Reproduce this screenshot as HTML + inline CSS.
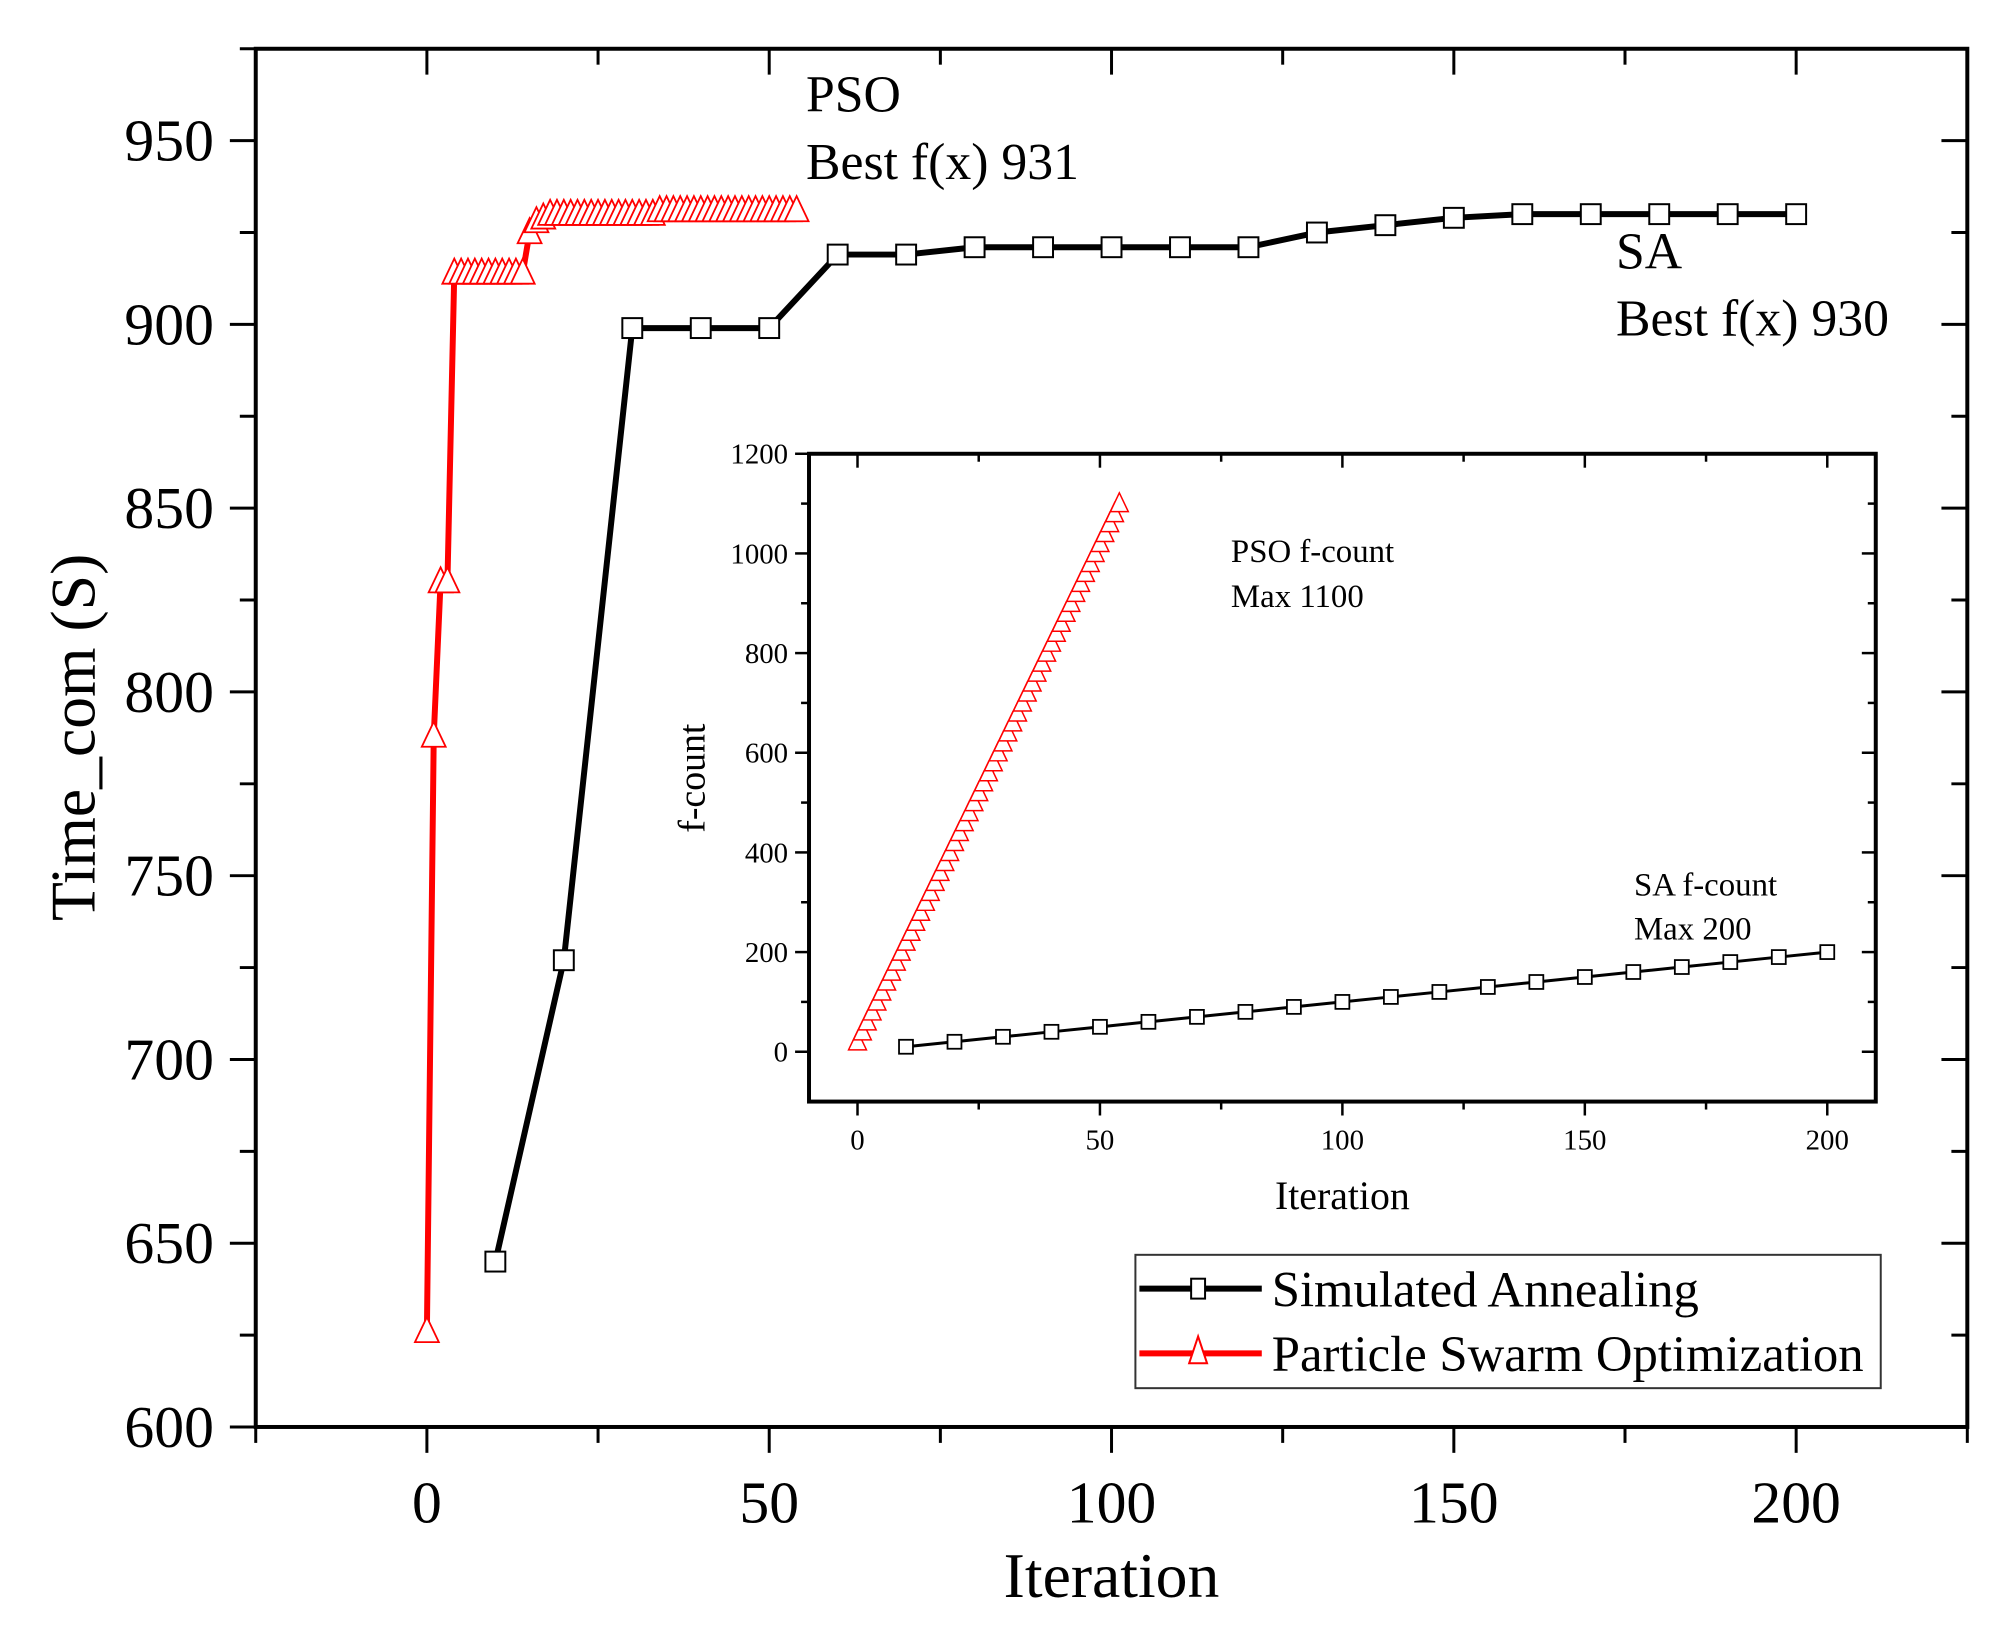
<!DOCTYPE html>
<html><head><meta charset="utf-8"><style>
html,body{margin:0;padding:0;background:#fff}
svg{display:block;font-family:"Liberation Serif",serif}
</style></head><body>
<svg id="chart" width="2006" height="1643" viewBox="0 0 2006 1643" xmlns="http://www.w3.org/2000/svg">
<g transform="scale(0.9951)">
<g id="main"></g>
<g id="inset"></g>
</g>
</svg>
<script>
// Main chart data
const saIter = [10,20,30,40,50,60,70,80,90,100,110,120,130,140,150,160,170,180,190,200];
const saTime = [645,727,899,899,899,919,919,921,921,921,921,921,925,927,929,930,930,930,930,930];
const psoIter = [0,1,2,3,4,5,6,7,8,9,10,11,12,13,14,15,16,17,18,19,20,21,22,23,24,25,26,27,28,29,30,31,32,33,34,35,36,37,38,39,40,41,42,43,44,45,46,47,48,49,50,51,52,53,54];
const psoTime = [626,788,830,830,914,914,914,914,914,914,914,914,914,914,914,925,928,929,930,930,930,930,930,930,930,930,930,930,930,930,930,930,930,930,931,931,931,931,931,931,931,931,931,931,931,931,931,931,931,931,931,931,931,931,931];
const xTicks = [0,50,100,150,200];
const yTicks = [600,650,700,750,800,850,900,950];
// Inset data
const saFIter = [10,20,30,40,50,60,70,80,90,100,110,120,130,140,150,160,170,180,190,200];
const saFCount = [10,20,30,40,50,60,70,80,90,100,110,120,130,140,150,160,170,180,190,200];
const psoFIter = [0,1,2,3,4,5,6,7,8,9,10,11,12,13,14,15,16,17,18,19,20,21,22,23,24,25,26,27,28,29,30,31,32,33,34,35,36,37,38,39,40,41,42,43,44,45,46,47,48,49,50,51,52,53,54];
const psoFCount = [20,40,60,80,100,120,140,160,180,200,220,240,260,280,300,320,340,360,380,400,420,440,460,480,500,520,540,560,580,600,620,640,660,680,700,720,740,760,780,800,820,840,860,880,900,920,940,960,980,1000,1020,1040,1060,1080,1100];
const inXTicks = [0,50,100,150,200];
const inYTicks = [0,200,400,600,800,1000,1200];

const NS = "http://www.w3.org/2000/svg";
function mk(parent, tag, attrs, text){
  const e = document.createElementNS(NS, tag);
  for (const k in attrs) e.setAttribute(k, attrs[k]);
  if (text !== undefined) e.textContent = text;
  parent.appendChild(e);
  return e;
}
// ---------- MAIN ----------
const M = {l:257, r:1977, t:49, b:1434, x0:-25, x1:225, y0:600, y1:975};
const X = v => M.l + (v - M.x0) / (M.x1 - M.x0) * (M.r - M.l);
const Y = v => M.b - (v - M.y0) / (M.y1 - M.y0) * (M.b - M.t);
const g = document.getElementById('main');

let fr = mk(g,'rect',{x:M.l,y:M.t,width:M.r-M.l,height:M.b-M.t,fill:'none',stroke:'#000','stroke-width':4});



for (let v=-25; v<=225; v+=25){
  const major = (v % 50 === 0);
  const len = major ? 26 : 16;
  let t = mk(g,'line',{x1:X(v),x2:X(v),y1:M.b,y2:M.b+len,stroke:'#000','stroke-width':3});
  
  
  let t2 = mk(g,'line',{x1:X(v),x2:X(v),y1:M.t,y2:M.t+len,stroke:'#000','stroke-width':3});
  
  
}
for (let v=600; v<=975; v+=25){
  const major = (v % 50 === 0);
  const len = major ? 26 : 16;
  let t = mk(g,'line',{x1:M.l-len,x2:M.l,y1:Y(v),y2:Y(v),stroke:'#000','stroke-width':3});
  
  
  let t2 = mk(g,'line',{x1:M.r-len,x2:M.r,y1:Y(v),y2:Y(v),stroke:'#000','stroke-width':3});
  
  
}
xTicks.forEach(v=>{
  let t = mk(g,'text',{x:X(v),y:1530,'font-size':60,'text-anchor':'middle'}, String(v));
  
  
});
yTicks.forEach(v=>{
  let t = mk(g,'text',{x:215,y:Y(v)+20,'font-size':60,'text-anchor':'end'}, String(v));
  
  
});
let xt = mk(g,'text',{x:1117,y:1605,'font-size':64,'text-anchor':'middle'},'Iteration');


let yt = mk(g,'text',{x:95,y:741,'font-size':64,'text-anchor':'middle',transform:'rotate(-90 95 741)'},'Time_com (S)');



function polyline(parent, xs, ys, fx, fy, color, w, name){
  const pts = xs.map((x,i)=>fx(x)+','+fy(ys[i])).join(' ');
  let p = mk(parent,'polyline',{points:pts,fill:'none',stroke:color,'stroke-width':w,'stroke-linejoin':'round'});
  
  
}
function squares(parent, xs, ys, fx, fy, s, sw, name){
  xs.forEach((x,i)=>{
    let r = mk(parent,'rect',{x:fx(x)-s/2,y:fy(ys[i])-s/2,width:s,height:s,fill:'#fff',stroke:'#000','stroke-width':sw});
    
    
  });
}
function tris(parent, xs, ys, fx, fy, s, sw, name){
  xs.forEach((x,i)=>{
    const cx=fx(x), cy=fy(ys[i]);
    let p = mk(parent,'polygon',{points:`${cx},${cy-s*0.6} ${cx-s/2},${cy+s*0.45} ${cx+s/2},${cy+s*0.45}`,fill:'#fff',stroke:'#f00','stroke-width':sw});
    
    
  });
}
polyline(g, saIter, saTime, X, Y, '#000', 6, 'sa-line');
polyline(g, psoIter, psoTime, X, Y, '#f00', 6, 'pso-line');
squares(g, saIter, saTime, X, Y, 20, 2, 'sa-point');
tris(g, psoIter, psoTime, X, Y, 24, 1.8, 'pso-point');

[['PSO',810,112,'pso-label'],['Best f(x) 931',810,180,'pso-best-label'],['SA',1624,270,'sa-label'],['Best f(x) 930',1624,337,'sa-best-label']].forEach(a=>{
  let t = mk(g,'text',{x:a[1],y:a[2],'font-size':52},a[0]);
  
  
});

// legend
const lg = mk(g,'g',{});


let lb = mk(lg,'rect',{x:1141,y:1261,width:749,height:134,fill:'#fff',stroke:'#333','stroke-width':2});


let l1 = mk(lg,'line',{x1:1145,x2:1268,y1:1295,y2:1295,stroke:'#000','stroke-width':6});


let s1 = mk(lg,'rect',{x:1197,y:1285,width:14,height:20,fill:'#fff',stroke:'#000','stroke-width':2});


let lt1 = mk(lg,'text',{x:1278,y:1313,'font-size':51},'Simulated Annealing');


let l2 = mk(lg,'line',{x1:1145,x2:1268,y1:1360,y2:1360,stroke:'#f00','stroke-width':6});


let s2 = mk(lg,'polygon',{points:'1204,1343 1195,1370 1213,1370',fill:'#fff',stroke:'#f00','stroke-width':2});


let lt2 = mk(lg,'text',{x:1278,y:1378,'font-size':51},'Particle Swarm Optimization');



// ---------- INSET ----------
const I = {l:813, r:1885, t:456, b:1107, x0:-10, x1:210, y0:-100, y1:1200};
const IX = v => I.l + (v - I.x0) / (I.x1 - I.x0) * (I.r - I.l);
const IY = v => I.b - (v - I.y0) / (I.y1 - I.y0) * (I.b - I.t);
const ig = document.getElementById('inset');
let ib = mk(ig,'rect',{x:I.l,y:I.t,width:I.r-I.l,height:I.b-I.t,fill:'#fff',stroke:'#000','stroke-width':4});


for (let v=0; v<=200; v+=25){
  const len = (v%50===0)?14:8;
  let t = mk(ig,'line',{x1:IX(v),x2:IX(v),y1:I.b,y2:I.b+len,stroke:'#000','stroke-width':2.5});
  
  
  let t2 = mk(ig,'line',{x1:IX(v),x2:IX(v),y1:I.t,y2:I.t+len,stroke:'#000','stroke-width':2.5});
  
  
}
for (let v=0; v<=1200; v+=100){
  const len = (v%200===0)?14:8;
  let t = mk(ig,'line',{x1:I.l-len,x2:I.l,y1:IY(v),y2:IY(v),stroke:'#000','stroke-width':2.5});
  
  
  let t2 = mk(ig,'line',{x1:I.r-len,x2:I.r,y1:IY(v),y2:IY(v),stroke:'#000','stroke-width':2.5});
  
  
}
inXTicks.forEach(v=>{
  let t = mk(ig,'text',{x:IX(v),y:1155,'font-size':29,'text-anchor':'middle'},String(v));
  
  
});
inYTicks.forEach(v=>{
  let t = mk(ig,'text',{x:792,y:IY(v)+10,'font-size':29,'text-anchor':'end'},String(v));
  
  
});
let ixt = mk(ig,'text',{x:1349,y:1215,'font-size':40,'text-anchor':'middle'},'Iteration');


let iyt = mk(ig,'text',{x:708,y:782,'font-size':38,'text-anchor':'middle',transform:'rotate(-90 708 782)'},'f-count');


polyline(ig, saFIter, saFCount, IX, IY, '#000', 3, 'inset-sa-line');
polyline(ig, psoFIter, psoFCount, IX, IY, '#f00', 2, 'inset-pso-line');
squares(ig, saFIter, saFCount, IX, IY, 14, 1.8, 'inset-sa-point');
tris(ig, psoFIter, psoFCount, IX, IY, 18, 1.5, 'inset-pso-point');
[['PSO f-count',1237,565,'inset-pso-label'],['Max 1100',1237,610,'inset-pso-max'],['SA f-count',1642,900,'inset-sa-label'],['Max 200',1642,944,'inset-sa-max']].forEach(a=>{
  let t = mk(ig,'text',{x:a[1],y:a[2],'font-size':33},a[0]);
  
  
});
</script>
</body></html>
